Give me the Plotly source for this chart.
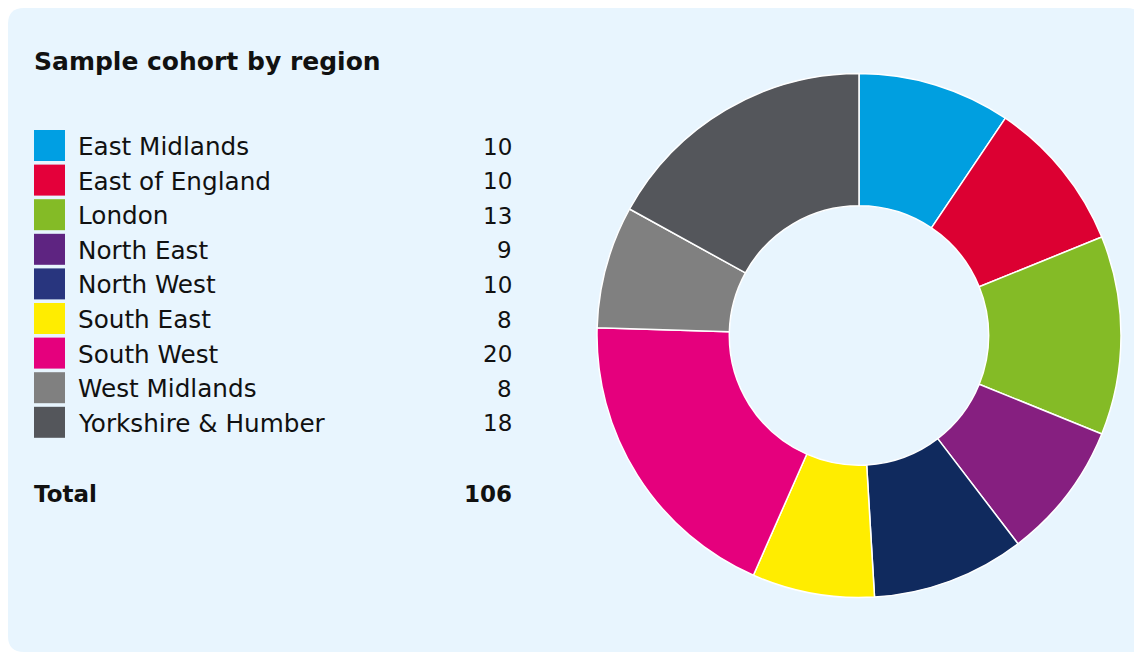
import plotly.graph_objects as go

regions = ["East Midlands", "East of England", "London", "North East", "North West",
           "South East", "South West", "West Midlands", "Yorkshire & Humber"]
counts = [10, 10, 13, 9, 10, 8, 20, 8, 18]
title_text = "Sample cohort by region"
total_label = "Total"

slice_colors = ["#009FE0", "#DC0032", "#84BB26", "#861F80", "#102A5E",
                "#FFED00", "#E5007D", "#808080", "#54565B"]
key_colors = ["#009FE3", "#E4003A", "#84BB26", "#5E2481", "#28357E",
              "#FFED00", "#E5007D", "#808080", "#54565B"]

W, H = 1134, 644
OFF = 8  # page body margin
FONT = "DejaVu Sans"

def px(x):
    return (x - OFF) / W

def py(y):
    return 1 - (y - OFF) / H

fig = go.Figure()
fig.add_trace(go.Pie(
    labels=regions, values=counts, sort=False, direction="clockwise", rotation=0,
    hole=0.495, textinfo="none", hoverinfo="label+value",
    marker=dict(colors=slice_colors, line=dict(color="#FFFFFF", width=1.5)),
    domain=dict(x=[px(597), px(1121)], y=[py(598), py(73)]),
    showlegend=False,
))

shapes = []
r = 16
rx, ry = r / W, r / H
path = (f"M {rx},1 L {1 - rx},1 Q 1,1 1,{1 - ry} "
        f"L 1,0 L {rx},0 Q 0,0 0,{ry} "
        f"L 0,{1 - ry} Q 0,1 {rx},1 Z")
shapes.append(dict(type="path", xref="paper", yref="paper", path=path,
                   fillcolor="#E8F5FE", line=dict(width=0), layer="below"))

annotations = [dict(text=f"<b>{title_text}</b>", x=px(32), y=py(62), xref="paper", yref="paper",
                    xanchor="left", yanchor="middle", showarrow=False,
                    font=dict(family=FONT, size=25, color="#111111"))]

row_top = 130
row_step = 34.6
sq = 31
for i, (name, val, col) in enumerate(zip(regions, counts, key_colors)):
    top = row_top + i * row_step
    shapes.append(dict(type="rect", xref="paper", yref="paper",
                       x0=px(34), x1=px(34 + sq), y0=py(top), y1=py(top + sq),
                       fillcolor=col, line=dict(width=0)))
    cy = top + sq / 2 + 1
    annotations.append(dict(text=name, x=px(76), y=py(cy), xref="paper", yref="paper",
                            xanchor="left", yanchor="middle", showarrow=False,
                            font=dict(family=FONT, size=24.7, color="#111111")))
    annotations.append(dict(text=str(val), x=px(514), y=py(cy), xref="paper", yref="paper",
                            xanchor="right", yanchor="middle", showarrow=False,
                            font=dict(family=FONT, size=23, color="#111111")))

annotations.append(dict(text=f"<b>{total_label}</b>", x=px(32), y=py(494), xref="paper", yref="paper",
                        xanchor="left", yanchor="middle", showarrow=False,
                        font=dict(family=FONT, size=23, color="#111111")))
annotations.append(dict(text=f"<b>{sum(counts)}</b>", x=px(514), y=py(494), xref="paper", yref="paper",
                        xanchor="right", yanchor="middle", showarrow=False,
                        font=dict(family=FONT, size=23, color="#111111")))

fig.update_layout(
    width=W, height=H, margin=dict(l=0, r=0, t=0, b=0),
    paper_bgcolor="#FFFFFF", plot_bgcolor="#FFFFFF",
    shapes=shapes, annotations=annotations, showlegend=False,
)
fig.write_html("out.html")
